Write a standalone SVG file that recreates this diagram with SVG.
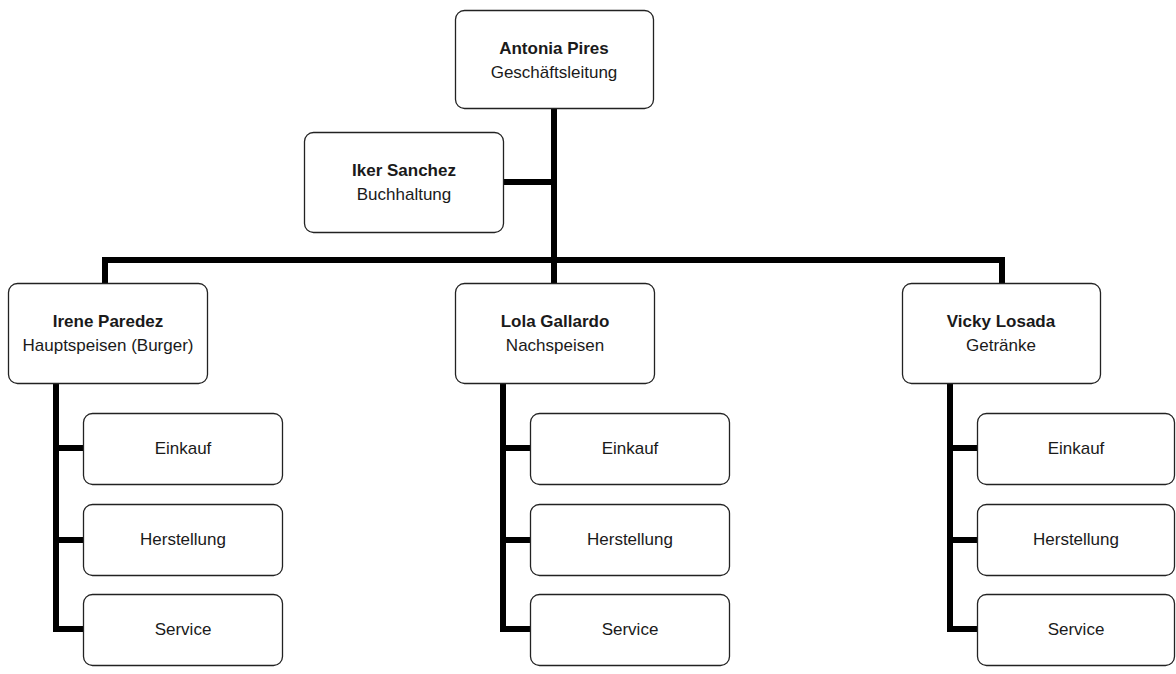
<svg xmlns="http://www.w3.org/2000/svg" width="1176" height="674" viewBox="0 0 1176 674">
<style>
.box{fill:#fff;stroke:#222;stroke-width:1.3}
.t{font-family:"Liberation Sans",Arial,sans-serif;font-size:17px;fill:#1a1a1a;text-anchor:middle}
.b{font-weight:bold}
.c{stroke:#000;stroke-width:6;fill:none;stroke-linecap:butt}
</style>
<rect width="1176" height="674" fill="#fff"/>
<g id="connectors">
<path class="c" d="M554 108V286"/>
<path class="c" d="M503 182H554"/>
<path class="c" d="M105 283V260H1002V283"/>
<path class="c" d="M56 383V632M56 448H83M56 540H83M56 629H83"/>
<path class="c" d="M503 383V632M503 448H530M503 540H530M503 629H530"/>
<path class="c" d="M950 383V632M950 448H977M950 540H977M950 629H977"/>
</g>
<g id="n-antonia"><rect class="box" x="455.5" y="10.5" width="198" height="98" rx="9"/><text class="t b" x="554" y="54">Antonia Pires</text><text class="t" x="554" y="78">Geschäftsleitung</text></g>
<g id="n-iker"><rect class="box" x="304.5" y="132.5" width="199" height="100" rx="9"/><text class="t b" x="404" y="176">Iker Sanchez</text><text class="t" x="404" y="200">Buchhaltung</text></g>
<g id="n-irene"><rect class="box" x="8.5" y="283.5" width="199" height="100" rx="9"/><text class="t b" x="108" y="327">Irene Paredez</text><text class="t" x="108" y="351">Hauptspeisen (Burger)</text></g>
<g id="n-lola"><rect class="box" x="455.5" y="283.5" width="199" height="100" rx="9"/><text class="t b" x="555" y="327">Lola Gallardo</text><text class="t" x="555" y="351">Nachspeisen</text></g>
<g id="n-vicky"><rect class="box" x="902.5" y="283.5" width="198" height="100" rx="9"/><text class="t b" x="1001" y="327">Vicky Losada</text><text class="t" x="1001" y="351">Getränke</text></g>
<g id="n-irene-einkauf"><rect class="box" x="83.5" y="413.5" width="199" height="71" rx="9"/><text class="t" x="183" y="454">Einkauf</text></g>
<g id="n-irene-herstellung"><rect class="box" x="83.5" y="504.5" width="199" height="71" rx="9"/><text class="t" x="183" y="545">Herstellung</text></g>
<g id="n-irene-service"><rect class="box" x="83.5" y="594.5" width="199" height="71" rx="9"/><text class="t" x="183" y="635">Service</text></g>
<g id="n-lola-einkauf"><rect class="box" x="530.5" y="413.5" width="199" height="71" rx="9"/><text class="t" x="630" y="454">Einkauf</text></g>
<g id="n-lola-herstellung"><rect class="box" x="530.5" y="504.5" width="199" height="71" rx="9"/><text class="t" x="630" y="545">Herstellung</text></g>
<g id="n-lola-service"><rect class="box" x="530.5" y="594.5" width="199" height="71" rx="9"/><text class="t" x="630" y="635">Service</text></g>
<g id="n-vicky-einkauf"><rect class="box" x="977.5" y="413.5" width="197" height="71" rx="9"/><text class="t" x="1076" y="454">Einkauf</text></g>
<g id="n-vicky-herstellung"><rect class="box" x="977.5" y="504.5" width="197" height="71" rx="9"/><text class="t" x="1076" y="545">Herstellung</text></g>
<g id="n-vicky-service"><rect class="box" x="977.5" y="594.5" width="197" height="71" rx="9"/><text class="t" x="1076" y="635">Service</text></g>
</svg>
